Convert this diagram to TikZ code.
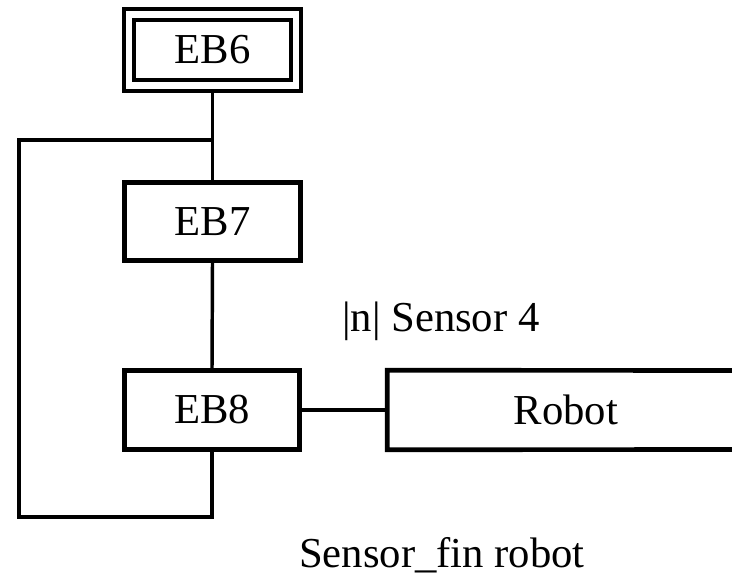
\documentclass[tikz,border=0pt]{standalone}
\usepackage{fontspec}
\setmainfont{Liberation Serif}
\begin{document}
\begin{tikzpicture}[x=0.75pt,y=-0.75pt,
  stepbox/.style={draw, line width=3.5pt, rectangle, inner sep=0pt,
    font=\fontsize{32}{38}\selectfont},
  link/.style={line width=2.6pt},
  loopline/.style={line width=3.6pt, line join=miter},
  label/.style={font=\fontsize{32}{38}\selectfont, inner sep=0pt}]
\useasboundingbox (0,0) rectangle (732,577);
% initial step: double frame
\node[stepbox, minimum width=117.75pt, minimum height=45pt] (EB6) at (212.5,50) {EB6};
\node[draw, line width=3pt, rectangle, minimum width=132.75pt, minimum height=61.5pt, inner sep=0pt] (EB6o) at (212.5,50) {};
% steps
\node[stepbox, minimum width=132pt, minimum height=58.5pt] (EB7) at (212.5,221.5) {EB7};
\node[stepbox, minimum width=131.25pt, minimum height=59.25pt] (EB8) at (212,410) {EB8};
% action box, open on the right
\node[label, minimum width=267.75pt, minimum height=59.25pt] (Robot) at (566,410) {Robot};
\draw[line width=3.5pt] (745,370.5) -- (Robot.north west) -- (Robot.south west) -- (745,449.5);
% links
\draw[link] (EB6o.south) -- (EB7.north);
\draw[link] (EB7.south) -- (EB8.north);
\draw[loopline] (EB8.east) -- (Robot.west);
% loop back from EB8 to the link above EB7
\coordinate (join) at (213,140);
\draw[loopline] (EB8.south) -- (EB8.south |- 0,517) -- (19,517) -- (19,140) -- (join);
% transition conditions
\node[label, anchor=base west] (t1) at (342,332) {\textbar n\textbar{} Sensor 4};
\node[label, anchor=base] (t2) at (442,567) {Sensor\_fin robot};
\end{tikzpicture}
\end{document}
